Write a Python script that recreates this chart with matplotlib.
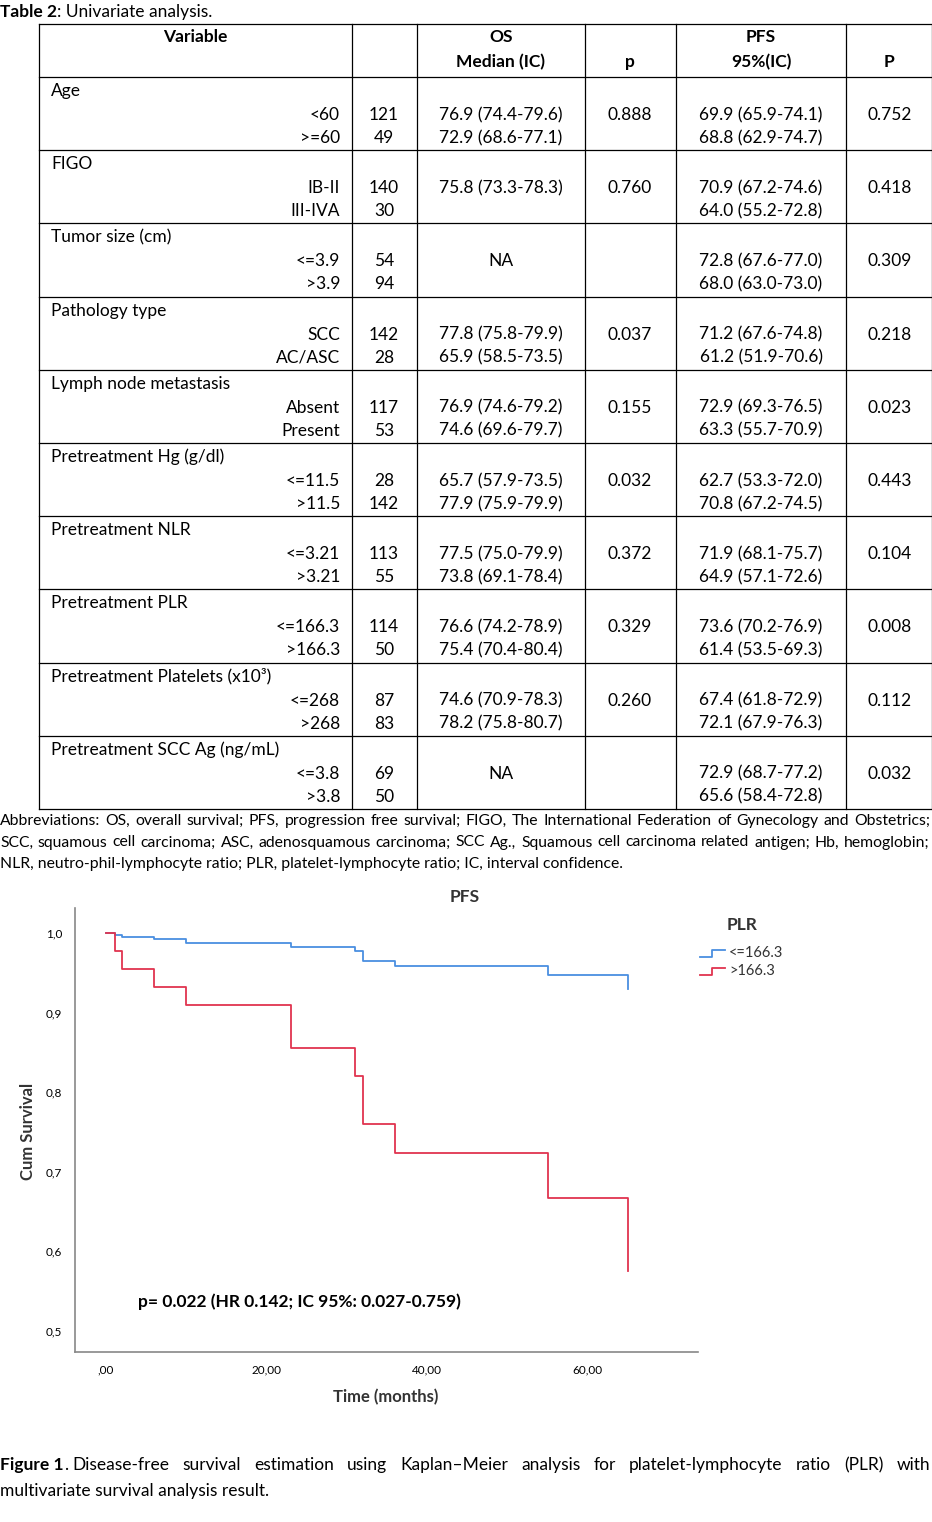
import matplotlib
matplotlib.use("Agg")
import matplotlib.pyplot as plt

W, H = 932, 1522
FONT = ["Lato", "DejaVu Sans"]

groups = ["Age", "FIGO", "Tumor size (cm)", "Pathology type", "Lymph node metastasis",
          "Pretreatment Hg (g/dl)", "Pretreatment NLR", "Pretreatment PLR",
          "Pretreatment Platelets (x10³)", "Pretreatment SCC Ag (ng/mL)"]
subcats = [["<60", ">=60"], ["IB-II", "III-IVA"], ["<=3.9", ">3.9"], ["SCC", "AC/ASC"],
           ["Absent", "Present"], ["<=11.5", ">11.5"], ["<=3.21", ">3.21"],
           ["<=166.3", ">166.3"], ["<=268", ">268"], ["<=3.8", ">3.8"]]
counts = [["121", "49"], ["140", "30"], ["54", "94"], ["142", "28"], ["117", "53"],
          ["28", "142"], ["113", "55"], ["114", "50"], ["87", "83"], ["69", "50"]]
os_med = [["76.9 (74.4-79.6)", "72.9 (68.6-77.1)"], ["75.8 (73.3-78.3)", ""], ["NA", None],
          ["77.8 (75.8-79.9)", "65.9 (58.5-73.5)"], ["76.9 (74.6-79.2)", "74.6 (69.6-79.7)"],
          ["65.7 (57.9-73.5)", "77.9 (75.9-79.9)"], ["77.5 (75.0-79.9)", "73.8 (69.1-78.4)"],
          ["76.6 (74.2-78.9)", "75.4 (70.4-80.4)"], ["74.6 (70.9-78.3)", "78.2 (75.8-80.7)"],
          ["NA", None]]
os_p = ["0.888", "0.760", "", "0.037", "0.155", "0.032", "0.372", "0.329", "0.260", ""]
pfs_med = [["69.9 (65.9-74.1)", "68.8 (62.9-74.7)"], ["70.9 (67.2-74.6)", "64.0 (55.2-72.8)"],
           ["72.8 (67.6-77.0)", "68.0 (63.0-73.0)"], ["71.2 (67.6-74.8)", "61.2 (51.9-70.6)"],
           ["72.9 (69.3-76.5)", "63.3 (55.7-70.9)"], ["62.7 (53.3-72.0)", "70.8 (67.2-74.5)"],
           ["71.9 (68.1-75.7)", "64.9 (57.1-72.6)"], ["73.6 (70.2-76.9)", "61.4 (53.5-69.3)"],
           ["67.4 (61.8-72.9)", "72.1 (67.9-76.3)"], ["72.9 (68.7-77.2)", "65.6 (58.4-72.8)"]]
pfs_p = ["0.752", "0.418", "0.309", "0.218", "0.023", "0.443", "0.104", "0.008", "0.112", "0.032"]

# KM data (time in months, survival)
low_t = [0, 1.1, 2, 6, 10, 23, 31, 32, 36, 55, 65]
low_s = [1.0, 0.998, 0.995, 0.992, 0.988, 0.983, 0.978, 0.965, 0.958, 0.947, 0.93]
high_t = [0, 1.1, 2, 6, 10, 23, 31, 32, 36, 55, 65]
high_s = [1.0, 0.977, 0.955, 0.932, 0.91, 0.855, 0.82, 0.76, 0.724, 0.667, 0.575]
xticks = [0, 20, 40, 60]
xtick_labels = [",00", "20,00", "40,00", "60,00"]
yticks = [0.5, 0.6, 0.7, 0.8, 0.9, 1.0]
ytick_labels = ["0,5", "0,6", "0,7", "0,8", "0,9", "1,0"]

fig = plt.figure(figsize=(W / 100, H / 100), dpi=100)
ax = fig.add_axes([0, 0, 1, 1])
ax.set_xlim(0, W); ax.set_ylim(H, 0); ax.axis("off")
renderer = fig.canvas.get_renderer()

fs = 12.5
def T(x, y, s, ha="left", **k):
    return ax.text(x, y, s, ha=ha, va="center", fontsize=k.pop("fs", fs), family=FONT, **k)

def width(t):
    return t.get_window_extent(renderer).width

def bold_then(x, y, b, rest, **k):
    t = T(x, y, b, weight="bold", **k)
    return T(x + width(t), y, rest, **k)

bold_then(0, 12, "Table 2", ": Univariate analysis.")

cols = [39, 352, 417, 585, 676, 846, 932]
rows = [24, 77] + [77 + 73.2 * (i + 1) for i in range(10)]
lw = 0.9
for x in cols:
    ax.plot([x, x], [24, rows[-1]], color="black", lw=lw)
for y in rows:
    ax.plot([39, 932], [y, y], color="black", lw=lw)

T(195, 37, "Variable", ha="center", weight="bold")
T(501, 37, "OS", ha="center", weight="bold")
T(501, 62, "Median (IC)", ha="center", weight="bold")
T(630, 62, "p", ha="center", weight="bold")
T(761, 37, "PFS", ha="center", weight="bold")
T(761, 62, "95%(IC)", ha="center", weight="bold")
T(889, 62, "P", ha="center", weight="bold")

for i in range(10):
    y0 = rows[i + 1]
    T(51, y0 + 14, groups[i])
    for j in range(2):
        yy = y0 + 38 + 23 * j
        T(340, yy, subcats[i][j], ha="right")
        T(384, yy, counts[i][j], ha="center")
        T(761, yy, pfs_med[i][j], ha="center")
    T(890, y0 + 38, pfs_p[i], ha="center")
    if os_med[i][1] is None:
        T(501, y0 + 38, os_med[i][0], ha="center")
    else:
        for j in range(2):
            T(501, y0 + 38 + 23 * j, os_med[i][j], ha="center")
    T(630, y0 + 38, os_p[i], ha="center")

abbr = ["Abbreviations: OS, overall survival; PFS, progression free survival; FIGO, The International Federation of Gynecology and Obstetrics;",
        "SCC, squamous cell carcinoma; ASC, adenosquamous carcinoma; SCC Ag., Squamous cell carcinoma related antigen; Hb, hemoglobin;",
        "NLR, neutro-phil-lymphocyte ratio; PLR, platelet-lymphocyte ratio; IC, interval confidence."]

def justify(y, words, fsz, x0=0, x1=930, first_bold=None):
    ts = []
    if first_bold:
        ts.append(T(x0, y, first_bold, weight="bold", fs=fsz))
    for w in words:
        ts.append(T(x0, y, w, fs=fsz))
    total = sum(width(t) for t in ts)
    gap = (x1 - x0 - total) / max(1, len(ts) - 1)
    x = x0
    for t in ts:
        t.set_x(x)
        x += width(t) + gap

justify(821, abbr[0].split(" "), 11.3)
justify(842.5, abbr[1].split(" "), 11.3)
T(0, 864, abbr[2], fs=11.3)

cap1 = ". Disease-free survival estimation using Kaplan–Meier analysis for platelet-lymphocyte ratio (PLR) with".split(" ")
tb = T(0, 1465, "Figure 1", weight="bold")
first = T(width(tb), 1465, cap1[0])
justify(1465, cap1[1:], fs, x0=width(tb) + width(first) + 5)
T(0, 1491, "multivariate survival analysis result.")

# KM chart axes
L, R, Tp, B = 75, 698, 908, 1352
cax = fig.add_axes([L / W, 1 - B / H, (R - L) / W, (B - Tp) / H])
px = 8.03
cax.set_xlim((75 - 106) / px, (698 - 106) / px)
cax.set_ylim(1.0 - (1352 - 933) / 796, 1.0 + (933 - 908) / 796)
blue, red = "#4a8fe0", "#e0344f"
cax.step(low_t, low_s, where="post", color=blue, lw=1.3)
cax.step(high_t, high_s, where="post", color=red, lw=1.3)
for s in ["top", "right"]:
    cax.spines[s].set_visible(False)
for s in ["left", "bottom"]:
    cax.spines[s].set_color("#888888")
    cax.spines[s].set_linewidth(1.2)
cax.set_xticks(xticks, xtick_labels, fontsize=8.5, family=FONT)
cax.set_yticks(yticks, ytick_labels, fontsize=8.5, family=FONT)
cax.tick_params(length=0, pad=9)
cax.text(4, 0.53, "p= 0.022 (HR 0.142; IC 95%: 0.027-0.759)", fontsize=12.5, weight="bold", family=FONT)

T(465, 897, "PFS", ha="center", fs=12.5, weight="bold", color="#333333")
T(28, 1131, "Cum Survival", ha="center", fs=12, weight="bold", rotation=90, color="#333333")
T(386, 1397, "Time (months)", ha="center", fs=12, weight="bold", color="#333333")
T(742, 925, "PLR", ha="center", fs=12.5, weight="bold", color="#333333")
for k, (c, lab) in enumerate([(blue, "<=166.3"), (red, ">166.3")]):
    y = 953 + 18 * k
    ax.plot([700, 712, 712, 725], [y + 4, y + 4, y - 3, y - 3], color=c, lw=1.3)
    T(729, y, lab, fs=10.5, color="#333333")

fig.savefig("out.png", dpi=100)
